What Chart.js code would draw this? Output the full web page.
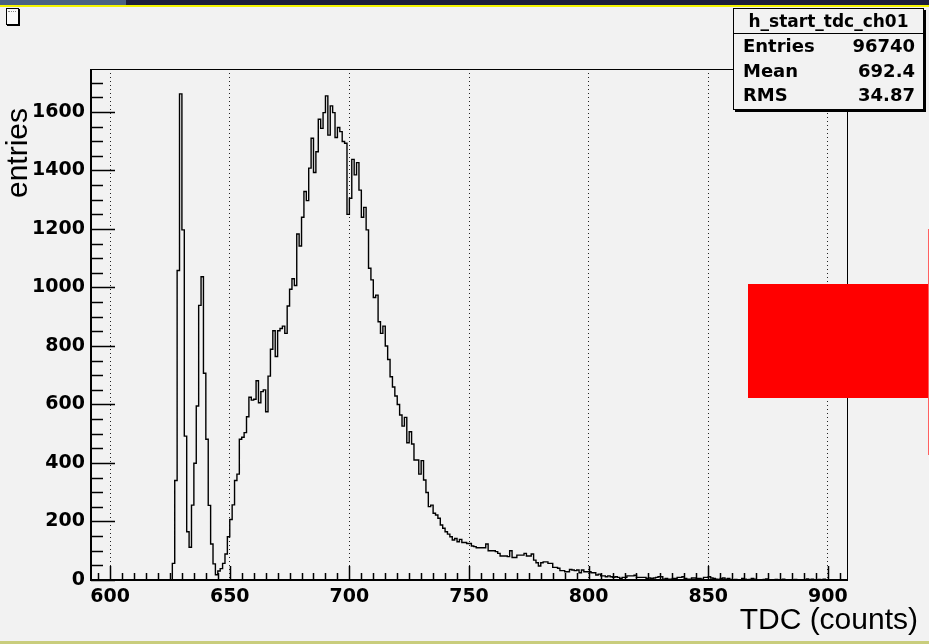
<!DOCTYPE html>
<html>
<head>
<meta charset="utf-8">
<script src="https://cdn.jsdelivr.net/npm/chart.js@4/dist/chart.umd.min.js"></script>
<style>
  body { margin: 0; background: #f2f2f2; }
  #wrap { position: relative; width: 929px; height: 644px; overflow: hidden; background: #f2f2f2; }
  #c { position: absolute; left: 0; top: 0; }
  .abs { position: absolute; }
  #stats {
    left: 733px; top: 8px; width: 189px; height: 100px;
    border: 1px solid #000; box-shadow: 2px 2px 0 #000; background: #f2f2f2;
    font-family: "DejaVu Sans", sans-serif; font-weight: bold; font-size: 18px; color: #000;
  }
  #stats .title { height: 24px; line-height: 24px; text-align: center; font-size: 17px; border-bottom: 1px solid #000; }
  #stats .row { position: relative; height: 24.5px; line-height: 24.5px; }
  #stats .row span:first-child { position: absolute; left: 9px; }
  #stats .row span:last-child { position: absolute; right: 8px; }
  .axtitle { font-family: "Liberation Sans", Arial, sans-serif; font-size: 30px; line-height: 30px; white-space: nowrap; color: #000; }
</style>
</head>
<body>
<div id="wrap">
  <canvas id="c" width="929" height="644"></canvas>

  <!-- window decorations of the screenshot -->
  <div class="abs" style="left:0;top:0;width:929px;height:5px;background:#1d1e3b"></div>
  <div class="abs" style="left:0;top:0;width:126px;height:5px;background:#4b6282"></div>
  <div class="abs" style="left:0;top:5px;width:929px;height:2px;background:#f4f400"></div>
  <div class="abs" style="left:0;top:641px;width:929px;height:3px;background:#c9cd7c"></div>

  <!-- small legend icon box at top left -->
  <div class="abs" style="left:6px;top:8px;width:11px;height:15px;background:#fafafa;border:1px solid #000;box-shadow:1px 1px 0 #000"></div>
  <div class="abs" style="left:8px;top:11px;width:8px;height:0;border-top:1px dotted #888"></div>

  <!-- stats box -->
  <div id="stats" class="abs">
    <div class="title">h_start_tdc_ch01</div>
    <div class="row"><span>Entries</span><span>96740</span></div>
    <div class="row"><span>Mean</span><span>692.4</span></div>
    <div class="row"><span>RMS</span><span>34.87</span></div>
  </div>

  <!-- axis titles -->
  <div class="abs axtitle" style="left:2px;top:198px;transform-origin:0 0;transform:rotate(-90deg);">entries</div>
  <div class="abs axtitle" style="right:11px;top:604px;">TDC (counts)</div>

  <!-- red overlay blocks -->
  <div class="abs" style="left:748px;top:284px;width:181px;height:114px;background:#ff0000"></div>
  <div class="abs" style="left:928px;top:229px;width:1px;height:226px;background:#ff6060"></div>
</div>

<script>
// histogram h_start_tdc_ch01: 1-count bins from 592 to 908
const binStart = 592;
const binWidth = 1;
const counts = [
  // 592 - 625
  0, 0, 0, 0, 0, 0, 0, 0, 0, 0, 0, 0, 0, 0, 0, 0, 0,
  0, 0, 0, 0, 0, 0, 0, 0, 0, 0, 0, 0, 0, 0, 0, 0, 0,
  // 626 - 649
  57, 340, 1058, 1662, 1197, 492, 165, 112, 256, 399, 595, 939,
  1037, 707, 481, 255, 123, 55, 18, 31, 39, 57, 89, 148,
  // 650 - 699
  207, 257, 340, 362, 481, 488, 504, 558, 625, 615,
  618, 681, 606, 644, 650, 575, 697, 789, 852, 764,
  852, 860, 868, 843, 937, 994, 1030, 1007, 1183, 1142,
  1240, 1328, 1297, 1408, 1510, 1393, 1464, 1575, 1544, 1598,
  1655, 1521, 1621, 1598, 1513, 1547, 1533, 1499, 1493, 1250,
  // 700 - 749
  1305, 1438, 1385, 1427, 1333, 1240, 1274, 1197, 1066, 1026,
  966, 974, 883, 843, 868, 800, 754, 695, 660, 629,
  600, 564, 526, 556, 469, 507, 465, 410, 410, 362,
  408, 342, 299, 251, 256, 228, 222, 211, 188, 177,
  165, 157, 148, 137, 142, 131, 139, 128, 128, 125,
  // 750 - 799
  125, 116, 114, 110, 110, 110, 110, 123, 100, 100,
  100, 97, 91, 82, 82, 82, 80, 100, 77, 77,
  85, 85, 85, 91, 82, 82, 89, 68, 59, 48,
  59, 62, 62, 57, 57, 43, 43, 40, 32, 32,
  28, 28, 36, 34, 32, 34, 25, 34, 28, 28,
  // 800 - 849
  28, 25, 25, 17, 20, 14, 14, 11, 14, 11,
  9, 11, 9, 5, 9, 9, 14, 14, 14, 16,
  9, 9, 9, 9, 5, 7, 5, 7, 9, 11,
  11, 3, 5, 3, 3, 5, 5, 9, 9, 11,
  5, 3, 3, 7, 7, 5, 5, 3, 9, 9,
  // 850 - 907
  11, 7, 5, 3, 2, 5, 7, 3, 5, 2,
  1, 2, 1, 1, 5, 3, 1, 2, 5, 3,
  1, 1, 0, 2, 4, 1, 0, 1, 2, 0,
  1, 3, 0, 1, 0, 0, 2, 0, 1, 0,
  1, 4, 0, 3, 0, 1, 2, 1, 3, 0,
  1, 0, 0, 0, 0, 0, 0, 0
];
const xTicks = [600, 650, 700, 750, 800, 850, 900];
const yTicks = [0, 200, 400, 600, 800, 1000, 1200, 1400, 1600];
const xMin = 592, xMax = 908;
const yMax = 1747;

const histPoints = counts.map((c, i) => ({ x: binStart + i * binWidth, y: c }));
histPoints.push({ x: binStart + counts.length * binWidth, y: counts[counts.length - 1] });

const tickFont = { family: "DejaVu Sans", weight: "bold", size: 19 };

// ROOT style frame with inward ticks
const rootFrame = {
  id: "rootFrame",
  afterDatasetsDraw(chart) {
    const { ctx, chartArea: a, scales } = chart;
    const xs = scales.x, ys = scales.y;
    ctx.save();
    ctx.strokeStyle = "#000";
    ctx.lineWidth = 1;
    ctx.beginPath();
    ctx.moveTo(a.left, a.top + 0.5);
    ctx.lineTo(a.right + 0.5, a.top + 0.5);
    ctx.lineTo(a.right + 0.5, a.bottom);
    ctx.stroke();
    ctx.lineWidth = 2;
    ctx.beginPath();
    ctx.moveTo(a.left, a.top);
    ctx.lineTo(a.left, a.bottom);
    ctx.lineTo(a.right + 1, a.bottom);
    ctx.stroke();
    ctx.lineWidth = 1.5;
    ctx.beginPath();
    for (let v = 0; v <= yMax; v += 50) {
      const y = Math.round(ys.getPixelForValue(v)) + 0.5;
      const len = v % 200 === 0 ? 24 : 12;
      ctx.moveTo(a.left, y);
      ctx.lineTo(a.left + len, y);
    }
    for (let v = 595; v <= xMax; v += 5) {
      const x = Math.round(xs.getPixelForValue(v)) + 0.5;
      const len = v % 50 === 0 ? 14 : 7;
      ctx.moveTo(x, a.bottom);
      ctx.lineTo(x, a.bottom - len);
    }
    ctx.stroke();
    ctx.restore();
  }
};

new Chart(document.getElementById("c"), {
  type: "line",
  data: {
    datasets: [
      {
        data: histPoints,
        stepped: true,
        borderColor: "#000",
        borderWidth: 1.4,
        pointRadius: 0,
        fill: false,
      },
    ],
  },
  options: {
    responsive: false,
    animation: false,
    devicePixelRatio: 1,
    layout: { padding: { top: 69, right: 82, left: 0, bottom: 0 } },
    plugins: {
      legend: { display: false },
      tooltip: { enabled: false },
    },
    scales: {
      x: {
        type: "linear",
        min: xMin,
        max: xMax,
        afterBuildTicks: (scale) => { scale.ticks = xTicks.map((v) => ({ value: v })); },
        afterFit: (scale) => { scale.height = 64; },
        grid: { color: "#222", lineWidth: 1, drawTicks: false },
        border: { display: false, dash: [1, 3] },
        ticks: { color: "#000", font: tickFont, padding: 6, maxRotation: 0, callback: (v) => String(v) },
      },
      y: {
        type: "linear",
        min: 0,
        max: yMax,
        afterBuildTicks: (scale) => { scale.ticks = yTicks.map((v) => ({ value: v })); },
        afterFit: (scale) => { scale.width = 91; },
        grid: { display: false, drawTicks: false },
        border: { display: false },
        ticks: { color: "#000", font: tickFont, padding: 6, callback: (v) => String(v) },
      },
    },
  },
  plugins: [rootFrame],
});
</script>
</body>
</html>
